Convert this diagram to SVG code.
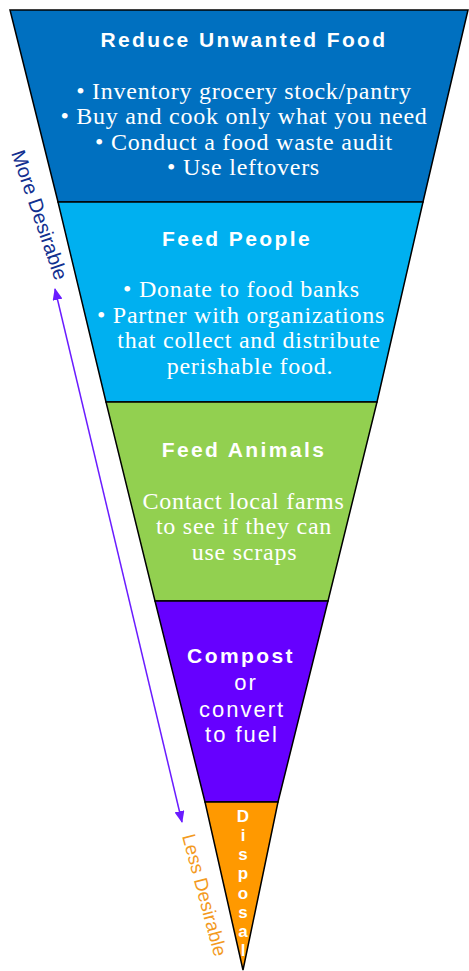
<svg xmlns="http://www.w3.org/2000/svg" width="469" height="971" viewBox="0 0 469 971">
<style>
.band{stroke:#000;stroke-width:1.5;stroke-linejoin:miter}
.h{font-family:"Liberation Sans",Arial,sans-serif;font-weight:bold;font-size:21px;letter-spacing:2.4px;fill:#fff;text-anchor:middle}
.s{font-family:"Liberation Serif","Times New Roman",serif;font-size:24px;letter-spacing:0.75px;fill:#fff;text-anchor:middle}
.r{font-family:"Liberation Sans",Arial,sans-serif;font-size:22px;letter-spacing:2px;fill:#fff;text-anchor:middle}
.d{font-family:"Liberation Sans",Arial,sans-serif;font-weight:bold;font-size:17px;fill:#fff;text-anchor:middle}
.lab{font-family:"Liberation Sans",Arial,sans-serif;font-size:20px}
</style>
<defs>
<marker id="ah" viewBox="0 0 12 10" refX="11" refY="5" markerWidth="12" markerHeight="10" markerUnits="userSpaceOnUse" orient="auto-start-reverse">
<path d="M0,0 L12,5 L0,10 Z" fill="#6A1CFF"/>
</marker>
</defs>
<rect width="469" height="971" fill="#fff"/>

<g id="reduce">
<polygon class="band" fill="#0070C0" points="10,10 468,10 423,202 58,202"/>
<text class="h" x="244" y="47">Reduce Unwanted Food</text>
<text class="s" x="244" y="99">• Inventory grocery stock/pantry</text>
<text class="s" x="244" y="124">• Buy and cook only what you need</text>
<text class="s" x="244" y="150">• Conduct a food waste audit</text>
<text class="s" x="243.5" y="175">• Use leftovers</text>
</g>

<g id="feed-people">
<polygon class="band" fill="#00B0F0" points="58,202 423,202 377,402 106,402"/>
<text class="h" x="237" y="246">Feed People</text>
<text class="s" x="241.5" y="297">• Donate to food banks</text>
<text class="s" x="241" y="323">• Partner with organizations</text>
<text class="s" x="249" y="348">that collect and distribute</text>
<text class="s" x="250" y="374">perishable food.</text>
</g>

<g id="feed-animals">
<polygon class="band" fill="#92D050" points="106,402 377,402 328,601 155,601"/>
<text class="h" x="244" y="457">Feed Animals</text>
<text class="s" x="243.5" y="509">Contact local farms</text>
<text class="s" x="244" y="534">to see if they can</text>
<text class="s" x="244.5" y="560">use scraps</text>
</g>

<g id="compost">
<polygon class="band" fill="#6600FF" points="155,601 328,601 278,802 205,802"/>
<text class="h" x="241" y="663">Compost</text>
<text class="r" x="246" y="690">or</text>
<text class="r" x="242" y="717">convert</text>
<text class="r" x="242" y="742">to fuel</text>
</g>

<g id="disposal">
<polygon class="band" fill="#FF9900" points="205,802 278,802 243,970"/>
<text class="d" x="243" y="822">D</text>
<text class="d" x="243" y="841">i</text>
<text class="d" x="243" y="860">s</text>
<text class="d" x="243" y="879">p</text>
<text class="d" x="243" y="899">o</text>
<text class="d" x="243" y="918">s</text>
<text class="d" x="243" y="937">a</text>
<text class="d" x="243" y="956">l</text>
</g>

<g id="labels">
<text class="lab" fill="#12308F" transform="translate(11,153) rotate(71)">More Desirable</text>
<text class="lab" fill="#F39A1E" style="font-size:19px" transform="translate(182,836) rotate(75)">Less Desirable</text>
</g>

<g id="connectors">
<line x1="55" y1="289" x2="182" y2="822" stroke="#6A1CFF" stroke-width="1.5" marker-start="url(#ah)" marker-end="url(#ah)"/>
</g>
</svg>
